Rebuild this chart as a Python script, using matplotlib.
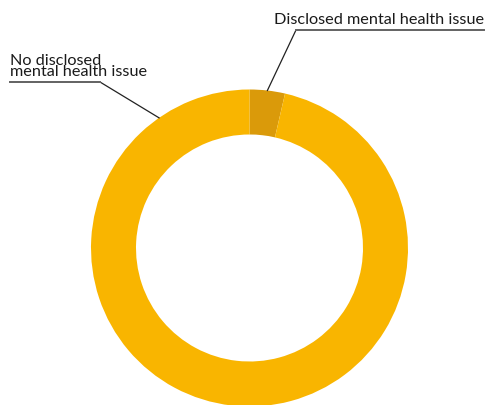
import numpy as np
import matplotlib.pyplot as plt

# share of people, in percent
labels = ["Disclosed mental health issue", "No disclosed\nmental health issue"]
values = [3.6, 96.4]
colors = ["#DA9A0A", "#F9B500"]

W, H = 486, 405
fig = plt.figure(figsize=(W / 100, H / 100), dpi=100)
ax = fig.add_axes([0, 0, 1, 1])

cx, cy, r = 249.5, H - 248, 158.5
ax.pie(values, colors=colors, startangle=90, counterclock=False,
       center=(cx, cy), radius=r, frame=True,
       wedgeprops=dict(width=45, linewidth=0))
ax.set_xlim(0, W)
ax.set_ylim(0, H)
ax.set_aspect("equal")
ax.axis("off")

font = dict(family=["Lato", "DejaVu Sans"], fontsize=11.7, color="#1a1a1a")

# leader for the small wedge, from its middle angle
ang = np.deg2rad(90 - values[0] * 3.6 / 2)
p = (cx + r * np.cos(ang), cy + r * np.sin(ang))
ax.plot([p[0], 296, 484], [p[1], H - 30, H - 30], color="#222222", lw=0.9)
ax.plot([296, 484], [H - 30, H - 30], color="#666666", lw=1.4)
ax.text(484, H - 27, labels[0], ha="right", va="bottom", **font)

# leader for the big wedge
ang2 = np.deg2rad(124.8)
q = (cx + r * np.cos(ang2), cy + r * np.sin(ang2))
ax.plot([q[0], 100, 10], [q[1], H - 82, H - 82], color="#222222", lw=0.9)
ax.plot([10, 100], [H - 82, H - 82], color="#666666", lw=1.4)
ax.text(10, H - 79, labels[1], ha="left", va="bottom", linespacing=0.72, **font)

fig.savefig("out.png", dpi=100)
